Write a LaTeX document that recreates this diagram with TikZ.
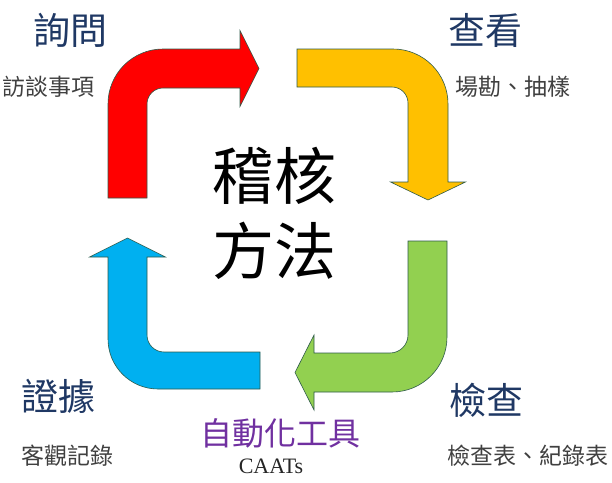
\documentclass[tikz,border=0pt]{standalone}
\usepackage{fontspec}
\newfontfamily\cjk{Noto Sans CJK TC}
\setmainfont{Liberation Serif}
\definecolor{arrred}{HTML}{FF0000}
\definecolor{arryellow}{HTML}{FFC000}
\definecolor{arrgreen}{HTML}{92D050}
\definecolor{arrblue}{HTML}{00B0F0}
\definecolor{arredge}{HTML}{2E5A4A}
\definecolor{headnavy}{HTML}{1F3864}
\definecolor{subgray}{HTML}{404040}
\definecolor{toolpurple}{HTML}{7030A0}
\tikzset{
  bigarrow/.style={draw=arredge, line width=0.6pt, line join=miter},
  head/.style={font=\cjk\fontsize{37}{40}\selectfont, text=headnavy, inner sep=0pt},
  sub/.style={font=\cjk\fontsize{23}{26}\selectfont, text=subgray, inner sep=0pt},
  title/.style={font=\cjk\fontsize{62}{75}\selectfont, text=black, inner sep=0pt, align=center},
  tool/.style={font=\cjk\fontsize{32}{36}\selectfont, text=toolpurple, inner sep=0pt},
  caats/.style={font=\fontsize{22}{24}\selectfont, text=black!85, inner sep=0pt}
}
\begin{document}
\begin{tikzpicture}[x=1pt,y=-1pt]
\useasboundingbox (0,0) rectangle (612,482);
% red arrow
\fill[bigarrow, fill=arrred] (108,198) -- (108,104)
  .. controls (108,73.6) and (132.6,49) .. (163,49)
  -- (240,49) -- (240,30.5) -- (259,68.5) -- (240,106.5) -- (240,88)
  -- (163,88) .. controls (154.2,88) and (147,95.2) .. (147,104)
  -- (147,198) -- cycle;
% yellow arrow
\fill[bigarrow, fill=arryellow] (297,49) -- (393,49)
  .. controls (423.4,49) and (448,73.6) .. (448,104)
  -- (448,182) -- (465.5,182) -- (428,200) -- (390.5,182) -- (408,182)
  -- (408,103) .. controls (408,94.2) and (400.8,87) .. (392,87)
  -- (297,87) -- cycle;
% green arrow
\fill[bigarrow, fill=arrgreen] (408,241) -- (447,241) -- (447,337)
  .. controls (447,367.4) and (422.4,392) .. (392,392)
  -- (314,392) -- (314,410) -- (295,372.5) -- (314,335) -- (314,353)
  -- (390,353) .. controls (399.9,353) and (408,344.9) .. (408,335)
  -- cycle;
% blue arrow
\fill[bigarrow, fill=arrblue] (260,389) -- (158,389)
  .. controls (130.4,389) and (108,366.6) .. (108,339)
  -- (108,257) -- (89.5,257) -- (127.5,238) -- (165.5,257) -- (147,257)
  -- (147,335) .. controls (147,344.4) and (154.6,352) .. (164,352)
  -- (260,352) -- cycle;
% texts
\node[head] (xunwen) at (70,30) {詢問};
\node[sub] (fangtan) at (48,87) {訪談事項};
\node[head] (chakan) at (485,30) {查看};
\node[sub] (changkan) at (513,87) {場勘、抽樣};
\node[title] (center) at (274,213) {稽核\\方法};
\node[head] (zhengju) at (58,396) {證據};
\node[sub] (keguan) at (67,456) {客觀記錄};
\node[tool] (zidong) at (280,433) {自動化工具};
\node[caats] (caats) at (271,466) {CAATs};
\node[head] (jiancha) at (486,400) {檢查};
\node[sub] (jianchabiao) at (528,456) {檢查表、紀錄表};
\end{tikzpicture}
\end{document}
